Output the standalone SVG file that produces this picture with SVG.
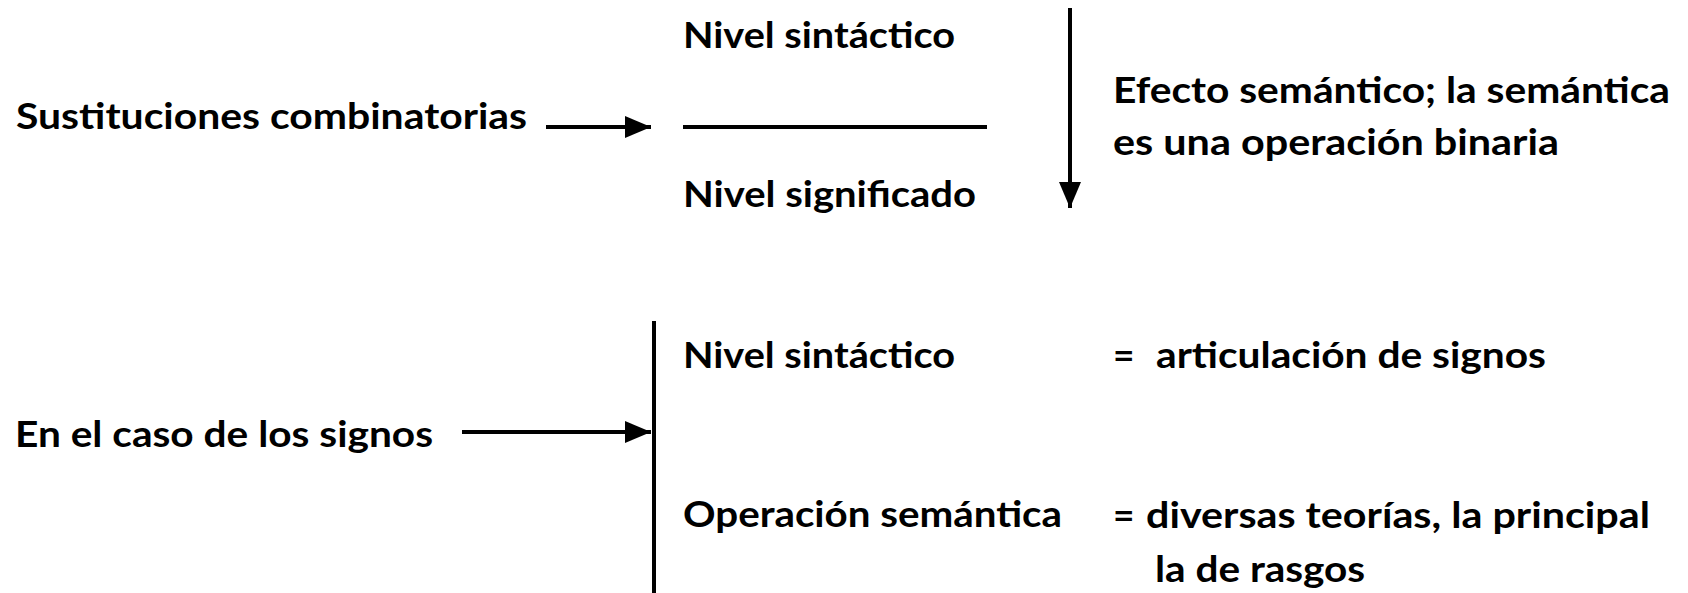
<svg xmlns="http://www.w3.org/2000/svg" width="1688" height="593" viewBox="0 0 1688 593">
<style>
text { font-family: "Lato", "Open Sans", "Liberation Sans", sans-serif; font-weight: bold; font-size: 37px; fill: #000; }
.ln { stroke: #000; stroke-width: 4; fill: none; }
</style>
<defs>
<marker id="ah" markerUnits="userSpaceOnUse" markerWidth="28" markerHeight="24" refX="26" refY="11" orient="auto">
<path d="M0,0 L26,11 L0,22 Z" fill="#000"/>
</marker>
</defs>
<rect width="1688" height="593" fill="#fff"/>
<g id="connectors">
<line class="ln" x1="546" y1="127" x2="651" y2="127" marker-end="url(#ah)"/>
<line class="ln" x1="683" y1="127" x2="987" y2="127"/>
<line class="ln" x1="1070" y1="8" x2="1070" y2="208" stroke-width="3" marker-end="url(#ah)"/>
<line class="ln" x1="462" y1="432" x2="651" y2="432" marker-end="url(#ah)"/>
<line class="ln" x1="654" y1="321" x2="654" y2="593" stroke-width="3.5"/>
</g>
<g id="n-sustituciones"><text x="16" y="129" textLength="511" lengthAdjust="spacingAndGlyphs">Sustituciones combinatorias</text></g>
<g id="n-nivel-sintactico-1"><text x="683" y="48" textLength="272" lengthAdjust="spacingAndGlyphs">Nivel sintáctico</text></g>
<g id="n-nivel-significado"><text x="683" y="207" textLength="293" lengthAdjust="spacingAndGlyphs">Nivel significado</text></g>
<g id="n-efecto">
<text x="1113" y="103" textLength="557" lengthAdjust="spacingAndGlyphs">Efecto semántico; la semántica</text>
<text x="1113" y="155" textLength="446" lengthAdjust="spacingAndGlyphs">es una operación binaria</text>
</g>
<g id="n-caso-signos"><text x="15" y="447" textLength="418" lengthAdjust="spacingAndGlyphs">En el caso de los signos</text></g>
<g id="n-nivel-sintactico-2"><text x="683" y="368" textLength="272" lengthAdjust="spacingAndGlyphs">Nivel sintáctico</text></g>
<g id="n-articulacion">
<text x="1113" y="368">=</text>
<text x="1156" y="368" textLength="390" lengthAdjust="spacingAndGlyphs">articulación de signos</text>
</g>
<g id="n-operacion"><text x="683" y="527" textLength="379" lengthAdjust="spacingAndGlyphs">Operación semántica</text></g>
<g id="n-teorias">
<text x="1113" y="528">=</text>
<text x="1146" y="528" textLength="504" lengthAdjust="spacingAndGlyphs">diversas teorías, la principal</text>
<text x="1155" y="582" textLength="210" lengthAdjust="spacingAndGlyphs">la de rasgos</text>
</g>
</svg>
